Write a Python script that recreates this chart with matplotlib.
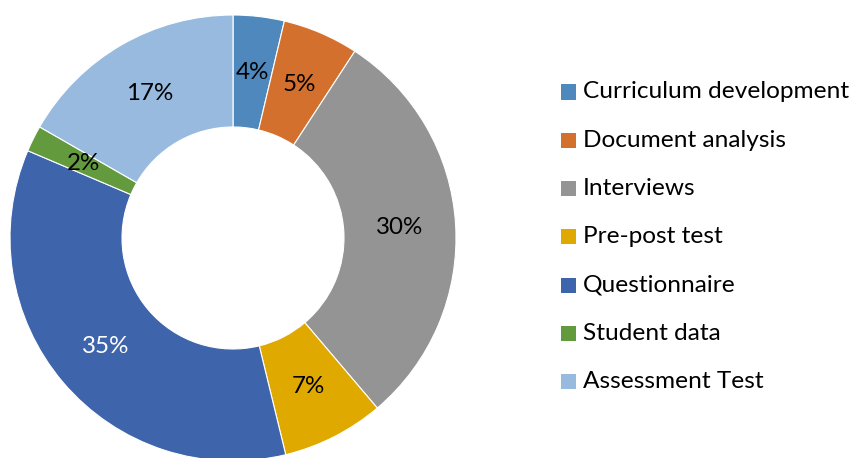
import matplotlib
matplotlib.use("Agg")
import matplotlib.pyplot as plt
from matplotlib.patches import Rectangle
import numpy as np

categories = ['Curriculum development', 'Document analysis', 'Interviews',
              'Pre-post test', 'Questionnaire', 'Student data', 'Assessment Test']
shares = [3.7, 5.5, 29.6, 7.4, 35.2, 1.9, 16.7]
pct_labels = ['4%', '5%', '30%', '7%', '35%', '2%', '17%']

colors = ['#4F88BD', '#D3702D', '#949494', '#E0A900', '#3E64AC', '#639A3D', '#98BADF']
label_colors = ['black', 'black', 'black', 'black', 'white', 'black', 'black']

plt.rcParams['font.family'] = ['Lato', 'DejaVu Sans']

W, H = 855, 458
fig = plt.figure(figsize=(W / 100, H / 100), dpi=100)

# donut: centre (233, 238) px from top-left, outer radius 223 px
cx, cy, r = 233, 238, 223
ax = fig.add_axes([(cx - r) / W, (H - cy - r) / H, 2 * r / W, 2 * r / H])
ring = (223 - 111) / 223

wedges, _ = ax.pie(shares, colors=colors, startangle=90, counterclock=False,
                   radius=1, wedgeprops=dict(width=ring, edgecolor='white', linewidth=0.8))
ax.set_xlim(-1, 1)
ax.set_ylim(-1, 1)
ax.set_aspect('equal')
ax.axis('off')

# percentage labels at mid-ring
mid_r = 1 - ring / 2
for w, txt, tc in zip(wedges, pct_labels, label_colors):
    ang = np.deg2rad((w.theta1 + w.theta2) / 2)
    ax.text(mid_r * np.cos(ang), mid_r * np.sin(ang), txt, ha='center', va='center',
            fontsize=17.4, color=tc)

# legend on the right
row0, step = 92, 48.3
for i, (name, col) in enumerate(zip(categories, colors)):
    y = row0 + i * step
    fig.add_artist(Rectangle((561 / W, (H - y - 7.5) / H), 15 / W, 15 / H,
                             transform=fig.transFigure, facecolor=col, edgecolor='none'))
    fig.text(583 / W, (H - y) / H, name, ha='left', va='center', fontsize=17.6, color='black')

fig.savefig('out.png', dpi=100)
